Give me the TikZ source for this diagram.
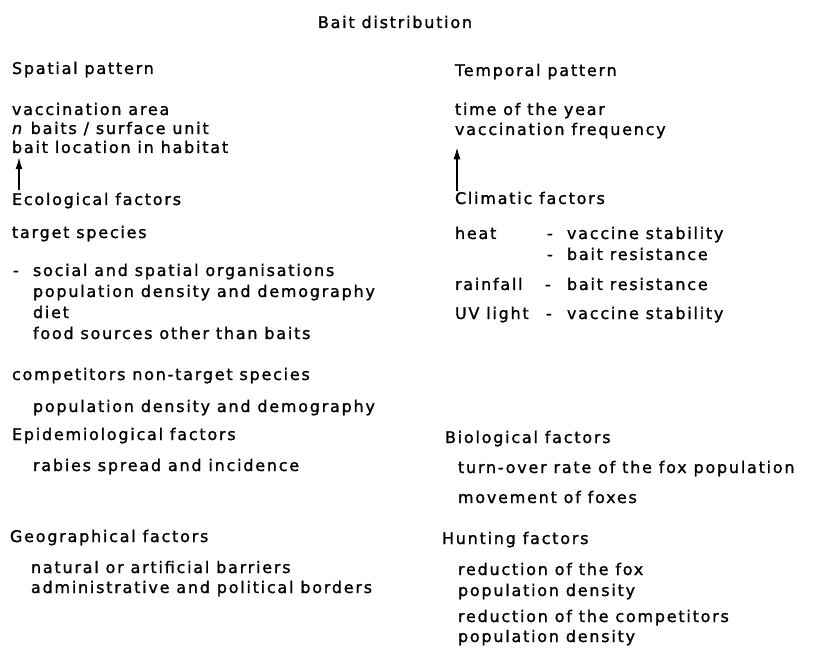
\documentclass[tikz,border=0pt]{standalone}
\usepackage{fontspec}
\setmainfont{DejaVu Sans}[LetterSpace=11, FakeBold=1.2]
\usetikzlibrary{arrows.meta}
\tikzset{
  txt/.style={anchor=base west, inner sep=0pt, outer sep=0pt, font=\fontsize{16}{19}\selectfont},
  ttl/.style={anchor=base, inner sep=0pt, outer sep=0pt, font=\fontsize{16}{19}\selectfont},
  upar/.style={-{Latex[length=12pt,width=7pt]}, line width=1.4pt}
}
\begin{document}
\begin{tikzpicture}[x=1pt,y=-1pt]
\path[use as bounding box, fill=white] (0,0) rectangle (831,650);
% title
\node[ttl] (title) at (395,28) {Bait distribution};
% left column
\node[txt] (sp) at (12,74) {Spatial pattern};
\node[txt] (va) at (12,115) {vaccination area};
\node[txt] (nb) at (12,134) {\textit{n} baits / surface unit};
\node[txt] (bl) at (12,153) {bait location in habitat};
\node[txt] (eco) at (12,205) {Ecological factors};
\node[txt] (ts) at (12,238) {target species};
\node[txt] (d1) at (13,276) {-};
\node[txt] (so) at (33,276) {social and spatial organisations};
\node[txt] (pd1) at (33,297) {population density and demography};
\node[txt] (diet) at (33,318) {diet};
\node[txt] (food) at (33,339) {food sources other than baits};
\node[txt] (comp) at (12,380) {competitors non-target species};
\node[txt] (pd2) at (33,412) {population density and demography};
\node[txt] (epi) at (12,440) {Epidemiological factors};
\node[txt] (rab) at (33,471) {rabies spread and incidence};
\node[txt] (geo) at (10,542) {Geographical factors};
\node[txt] (nat) at (31,573) {natural or artificial barriers};
\node[txt] (adm) at (31,593) {administrative and political borders};
% right column
\node[txt] (tp) at (455,76) {Temporal pattern};
\node[txt] (ty) at (455,115) {time of the year};
\node[txt] (vf) at (455,135) {vaccination frequency};
\node[txt] (clim) at (455,204) {Climatic factors};
\node[txt] (heat) at (455,239) {heat};
\node[txt] (hd1) at (547,239) {-};
\node[txt] (h1) at (567,239) {vaccine stability};
\node[txt] (hd2) at (547,260) {-};
\node[txt] (h2) at (567,260) {bait resistance};
\node[txt] (rain) at (455,290) {rainfall};
\node[txt] (rd) at (545,290) {-};
\node[txt] (r1) at (567,290) {bait resistance};
\node[txt] (uv) at (455,319) {UV light};
\node[txt] (ud) at (546,319) {-};
\node[txt] (u1) at (567,319) {vaccine stability};
\node[txt] (bio) at (445,443) {Biological factors};
\node[txt] (to) at (458,473) {turn-over rate of the fox population};
\node[txt] (mv) at (458,503) {movement of foxes};
\node[txt] (hunt) at (442,544) {Hunting factors};
\node[txt] (rf1) at (458,575) {reduction of the fox};
\node[txt] (rf2) at (458,596) {population density};
\node[txt] (rc1) at (458,622) {reduction of the competitors};
\node[txt] (rc2) at (458,642) {population density};
% arrow end points (yshift is upward on the page)
\coordinate (ecoA) at ([xshift=7pt,yshift=3pt]eco.north west);
\coordinate (blA) at ([xshift=7pt,yshift=-4pt]bl.south west);
\coordinate (climA) at ([xshift=2pt,yshift=1pt]clim.north west);
\coordinate (vfA) at ([xshift=2pt,yshift=-9pt]vf.south west);
% arrows
\draw[upar] (ecoA) -- (blA);
\draw[upar] (climA) -- (vfA);
\end{tikzpicture}
\end{document}
